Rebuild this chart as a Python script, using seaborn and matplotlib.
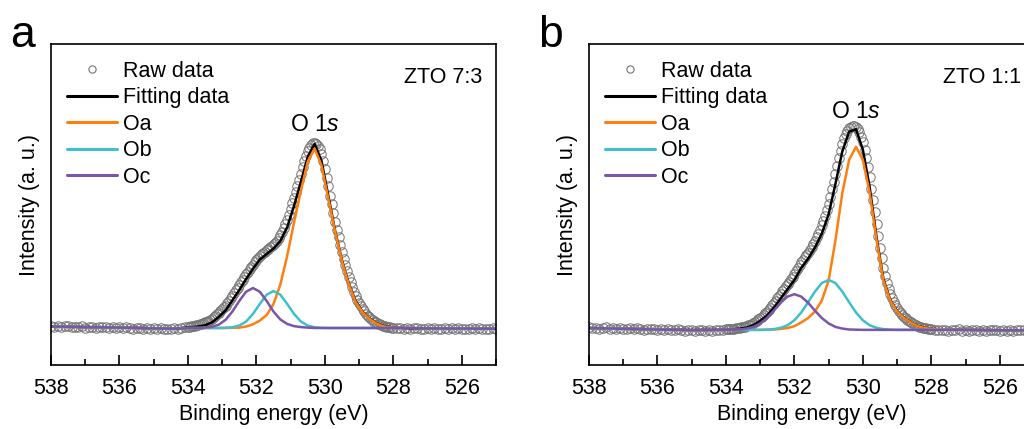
import matplotlib

matplotlib.use("Agg")
import matplotlib.pyplot as plt
import numpy as np
import seaborn as sns
from matplotlib.lines import Line2D
from matplotlib.ticker import MultipleLocator

# raw spectra: 0.1 eV steps on the flat wings, 0.05 eV steps across the peak
RAW_E = np.round(
    np.concatenate(
        [
            np.arange(538.0, 534.05, -0.1),
            np.arange(534.0, 527.975, -0.05),
            np.arange(527.9, 524.95, -0.1),
        ]
    ),
    2,
)

RAW_A = [
    # 538.0 -> 534.1
    0.012, 0.006, 0.010, 0.004, 0.009, 0.011, 0.003, 0.007, 0.005, 0.010,
    0.002, 0.006, 0.008, 0.001, 0.005, 0.003, 0.007, -0.001, 0.004, 0.002,
    0.006, -0.002, 0.003, 0.001, -0.003, 0.002, -0.001, -0.005, 0.001, -0.004,
    -0.002, -0.006, -0.001, -0.005, -0.003, -0.007, -0.002, -0.004, 0.000, 0.003,
    # 534.00 -> 528.00
    0.006, 0.007, 0.010, 0.010, 0.012, 0.016, 0.018, 0.019, 0.022, 0.027,
    0.030, 0.033, 0.038, 0.045, 0.050, 0.057, 0.065, 0.074, 0.082, 0.090,
    0.100, 0.111, 0.120, 0.134, 0.148, 0.161, 0.175, 0.189, 0.203, 0.218,
    0.232, 0.247, 0.262, 0.276, 0.290, 0.304, 0.318, 0.331, 0.343, 0.356,
    0.368, 0.380, 0.390, 0.399, 0.406, 0.413, 0.420, 0.428, 0.436, 0.444,
    0.452, 0.461, 0.472, 0.485, 0.500, 0.518, 0.538, 0.560, 0.585, 0.612,
    0.642, 0.673, 0.705, 0.737, 0.770, 0.802, 0.835, 0.868, 0.900, 0.930,
    0.955, 0.975, 0.990, 0.998, 1.000, 0.995, 0.985, 0.965, 0.940, 0.903,
    0.860, 0.813, 0.765, 0.716, 0.668, 0.621, 0.575, 0.531, 0.490, 0.449,
    0.410, 0.374, 0.340, 0.306, 0.275, 0.247, 0.220, 0.195, 0.172, 0.152,
    0.133, 0.117, 0.102, 0.090, 0.078, 0.067, 0.058, 0.049, 0.042, 0.035,
    0.030, 0.024, 0.020, 0.016, 0.013, 0.010, 0.008, 0.005, 0.004, 0.002,
    0.001,
    # 527.9 -> 525.0
    -0.002, 0.000, -0.004, -0.001, -0.005, -0.002, 0.001, -0.003, -0.006, -0.002,
    -0.004, 0.000, -0.005, -0.003, -0.001, -0.006, -0.002, -0.004, 0.000, -0.005,
    -0.003, -0.006, -0.002, -0.004, -0.001, -0.005, -0.003, -0.006, -0.002, -0.004,
]

RAW_B = [
    # 538.0 -> 534.1
    0.014, 0.008, 0.012, 0.005, 0.010, 0.013, 0.006, 0.009, 0.003, 0.011,
    0.007, 0.004, 0.009, 0.002, 0.008, 0.005, 0.001, 0.006, 0.003, 0.007,
    0.000, 0.004, -0.002, 0.003, 0.001, -0.003, 0.002, -0.001, -0.004, 0.001,
    -0.002, -0.005, 0.000, -0.003, -0.006, -0.001, -0.004, 0.000, -0.002, 0.001,
    # 534.00 -> 528.00
    0.003, 0.004, 0.004, 0.005, 0.006, 0.007, 0.008, 0.010, 0.011, 0.013,
    0.015, 0.017, 0.020, 0.024, 0.028, 0.032, 0.037, 0.043, 0.050, 0.057,
    0.064, 0.072, 0.080, 0.089, 0.098, 0.109, 0.120, 0.132, 0.144, 0.157,
    0.170, 0.183, 0.196, 0.209, 0.222, 0.235, 0.248, 0.261, 0.274, 0.287,
    0.300, 0.316, 0.332, 0.350, 0.366, 0.379, 0.392, 0.405, 0.418, 0.434,
    0.450, 0.466, 0.482, 0.500, 0.520, 0.542, 0.565, 0.590, 0.618, 0.648,
    0.680, 0.719, 0.760, 0.802, 0.845, 0.888, 0.930, 0.970, 1.005, 1.035,
    1.060, 1.078, 1.090, 1.097, 1.100, 1.100, 1.098, 1.087, 1.070, 1.045,
    1.015, 0.975, 0.930, 0.879, 0.825, 0.764, 0.700, 0.635, 0.570, 0.506,
    0.445, 0.388, 0.335, 0.292, 0.255, 0.223, 0.195, 0.171, 0.150, 0.133,
    0.118, 0.104, 0.092, 0.082, 0.072, 0.063, 0.055, 0.048, 0.042, 0.036,
    0.031, 0.026, 0.022, 0.018, 0.015, 0.012, 0.010, 0.008, 0.006, 0.004,
    0.003,
    # 527.9 -> 525.0
    0.000, -0.003, 0.001, -0.002, -0.005, 0.000, -0.003, 0.002, -0.004, -0.001,
    -0.005, 0.001, -0.002, -0.004, 0.000, -0.006, -0.002, 0.001, -0.003, -0.005,
    -0.001, -0.004, 0.000, -0.006, -0.002, -0.003, 0.001, -0.005, -0.002, -0.004,
]

# fitted curves (panel a)
LINE_E_A = [
    538.0, 537.0, 536.0, 535.0, 534.3,
    533.9, 533.7, 533.5, 533.3, 533.1, 532.9, 532.7, 532.5, 532.3, 532.1,
    531.9, 531.7, 531.5, 531.3, 531.1, 530.9, 530.7, 530.5, 530.3, 530.1,
    529.9, 529.7, 529.5, 529.3, 529.1, 528.9, 528.7, 528.5, 528.3, 528.1,
    527.5, 527.0, 526.0, 525.0,
]
FIT_A = [
    0.008, 0.005, 0.003, -0.002, -0.003,
    0.004, 0.008, 0.015, 0.030, 0.060, 0.095, 0.150, 0.205, 0.265, 0.320,
    0.370, 0.400, 0.430, 0.470, 0.545, 0.660, 0.790, 0.925, 0.995, 0.905,
    0.715, 0.525, 0.365, 0.240, 0.145, 0.088, 0.052, 0.027, 0.012, 0.005,
    -0.003, -0.003, -0.003, -0.004,
]
OA_A = [
    0.008, 0.005, 0.002, -0.002, -0.004,
    0.000, 0.000, 0.000, 0.000, 0.000, 0.000, 0.001, 0.002, 0.008, 0.020,
    0.040, 0.070, 0.130, 0.235, 0.390, 0.570, 0.740, 0.900, 0.970, 0.880,
    0.700, 0.520, 0.360, 0.235, 0.140, 0.085, 0.050, 0.025, 0.010, 0.003,
    0.000, -0.002, -0.003, -0.004,
]
OB_A = [
    0.008, 0.005, 0.002, -0.002, -0.004,
    0.000, 0.000, 0.000, 0.000, 0.000, 0.001, 0.004, 0.013, 0.035, 0.076,
    0.130, 0.180, 0.200, 0.180, 0.130, 0.076, 0.035, 0.013, 0.004, 0.001,
    0.000, 0.000, 0.000, 0.000, 0.000, 0.000, 0.000, 0.000, 0.000, 0.000,
    0.000, -0.002, -0.003, -0.004,
]
OC_A = [
    0.008, 0.005, 0.002, -0.002, -0.004,
    0.000, 0.000, 0.002, 0.006, 0.018, 0.044, 0.089, 0.146, 0.196, 0.216,
    0.196, 0.146, 0.089, 0.046, 0.022, 0.010, 0.005, 0.002, 0.000, 0.000,
    0.000, 0.000, 0.000, 0.000, 0.000, 0.000, 0.000, 0.000, 0.000, 0.000,
    0.000, -0.002, -0.003, -0.004,
]

# fitted curves (panel b)
LINE_E_B = [
    538.0, 537.0, 536.0, 535.0,
    534.0, 533.8, 533.6, 533.4, 533.2, 533.0, 532.8, 532.6, 532.4, 532.2,
    532.0, 531.8, 531.6, 531.4, 531.2, 531.0, 530.8, 530.6, 530.4, 530.2,
    530.0, 529.8, 529.6, 529.4, 529.2, 529.0, 528.8, 528.6, 528.4, 528.2,
    528.0, 527.0, 526.0, 525.0,
]
FIT_B = [
    0.010, 0.006, 0.003, -0.001,
    0.001, 0.003, 0.006, 0.012, 0.025, 0.048, 0.078, 0.120, 0.170, 0.220,
    0.270, 0.335, 0.385, 0.445, 0.520, 0.625, 0.790, 0.965, 1.072, 1.085,
    0.975, 0.770, 0.500, 0.275, 0.162, 0.101, 0.065, 0.041, 0.021, 0.011,
    0.005, 0.000, -0.002, -0.003,
]
OA_B = [
    0.010, 0.006, 0.002, -0.002,
    0.000, 0.000, 0.000, 0.000, 0.000, 0.000, 0.001, 0.002, 0.005, 0.010,
    0.020, 0.040, 0.064, 0.099, 0.158, 0.267, 0.485, 0.740, 0.920, 0.990,
    0.920, 0.740, 0.485, 0.267, 0.158, 0.099, 0.064, 0.040, 0.020, 0.010,
    0.005, 0.000, -0.002, -0.003,
]
OB_B = [
    0.010, 0.006, 0.002, -0.002,
    0.000, 0.000, 0.000, 0.000, 0.000, 0.000, 0.001, 0.004, 0.011, 0.025,
    0.052, 0.094, 0.149, 0.207, 0.253, 0.270, 0.253, 0.207, 0.149, 0.094,
    0.052, 0.025, 0.011, 0.004, 0.001, 0.000, 0.000, 0.000, 0.000, 0.000,
    0.000, 0.000, -0.002, -0.003,
]
OC_B = [
    0.010, 0.006, 0.002, -0.002,
    0.000, 0.001, 0.002, 0.007, 0.016, 0.035, 0.064, 0.104, 0.147, 0.180,
    0.193, 0.180, 0.147, 0.104, 0.064, 0.035, 0.016, 0.007, 0.002, 0.001,
    0.000, 0.000, 0.000, 0.000, 0.000, 0.000, 0.000, 0.000, 0.000, 0.000,
    0.000, 0.000, -0.002, -0.003,
]

SAMPLES = ["ZTO 7:3", "ZTO 1:1"]
PANEL_LABELS = ["a", "b"]
X_TICKS = [538, 536, 534, 532, 530, 528, 526]
SERIES_LABELS = ["Raw data", "Fitting data", "Oa", "Ob", "Oc"]

RAW_COLOR = "#737373"
LINE_COLORS = ["black", "#ff7f0e", "#3fbfcc", "#7b55a8"]

for _a, _b in [(RAW_A, RAW_E), (RAW_B, RAW_E), (FIT_A, LINE_E_A), (OA_A, LINE_E_A),
               (OB_A, LINE_E_A), (OC_A, LINE_E_A), (FIT_B, LINE_E_B),
               (OA_B, LINE_E_B), (OB_B, LINE_E_B), (OC_B, LINE_E_B)]:
    assert len(_a) == len(_b), (len(_a), len(_b))


sns.set_theme(style="ticks")
plt.rcParams["font.family"] = ["Liberation Sans", "DejaVu Sans"]
plt.rcParams.update(
    {
        "mathtext.fontset": "custom",
        "mathtext.rm": "Liberation Sans",
        "mathtext.it": "Liberation Sans:italic",
        "axes.linewidth": 1.2,
        "axes.edgecolor": "black",
        "text.color": "black",
        "axes.labelcolor": "black",
        "xtick.color": "black",
        "ytick.color": "black",
    }
)
FS = 15.5


def draw_panel(ax, raw, line_e, curves, sample, ylim, peak_xy):
    sns.lineplot(
        x=RAW_E, y=raw, ax=ax, marker="o", linestyle="none", markersize=6.8,
        markerfacecolor="none", markeredgecolor=RAW_COLOR, markeredgewidth=0.7,
        legend=False,
    )
    for values, color in zip(curves, LINE_COLORS):
        sns.lineplot(x=line_e, y=values, ax=ax, color=color, linewidth=1.8,
                     legend=False)

    ax.set_xlim(538, 525)
    ax.set_ylim(*ylim)
    ax.set_xticks(X_TICKS)
    ax.set_xticklabels([str(t) for t in X_TICKS], fontsize=FS)
    ax.xaxis.set_minor_locator(MultipleLocator(1))
    ax.set_yticks([])
    ax.tick_params(axis="x", which="major", direction="in", length=7, width=1.2,
                   pad=9)
    ax.tick_params(axis="x", which="minor", direction="in", length=4, width=1.2)
    ax.set_xlabel("Binding energy (eV)", fontsize=FS, labelpad=4)
    ax.set_ylabel("Intensity (a. u.)", fontsize=FS, labelpad=8)

    ax.text(0.97, 0.895, sample, transform=ax.transAxes, ha="right", va="center",
            fontsize=FS)
    ax.text(peak_xy[0], peak_xy[1], r"O 1$\mathit{s}$", ha="center", va="center",
            fontsize=16.5)

    handles = [
        Line2D([], [], marker="o", linestyle="none", markersize=5.2,
               markerfacecolor="none", markeredgecolor=RAW_COLOR,
               markeredgewidth=0.8)
    ] + [Line2D([], [], color=c, linewidth=2.2) for c in LINE_COLORS]
    ax.legend(handles, SERIES_LABELS, loc="upper left",
              bbox_to_anchor=(0.036, 0.947), frameon=False, fontsize=FS,
              borderpad=0, borderaxespad=0, handlelength=2.3,
              handletextpad=0.3, labelspacing=0.25, numpoints=1)


fig = plt.figure(figsize=(10.24, 4.29), dpi=100)
ax_a = fig.add_axes([51 / 1024, 64 / 429, 445 / 1024, 321 / 429])
ax_b = fig.add_axes([589 / 1024, 64 / 429, 445 / 1024, 321 / 429])

draw_panel(ax_a, RAW_A, LINE_E_A, [FIT_A, OA_A, OB_A, OC_A], SAMPLES[0],
           (-0.2, 1.535), (530.3, 1.10))
draw_panel(ax_b, RAW_B, LINE_E_B, [FIT_B, OA_B, OB_B, OC_B], SAMPLES[1],
           (-0.19, 1.546), (530.2, 1.18))

fig.text(10 / 1024, 1 - 47 / 429, PANEL_LABELS[0], fontsize=32, va="baseline")
fig.text(538 / 1024, 1 - 47 / 429, PANEL_LABELS[1], fontsize=32, va="baseline")

fig.savefig("out.png", dpi=100, facecolor="white")
